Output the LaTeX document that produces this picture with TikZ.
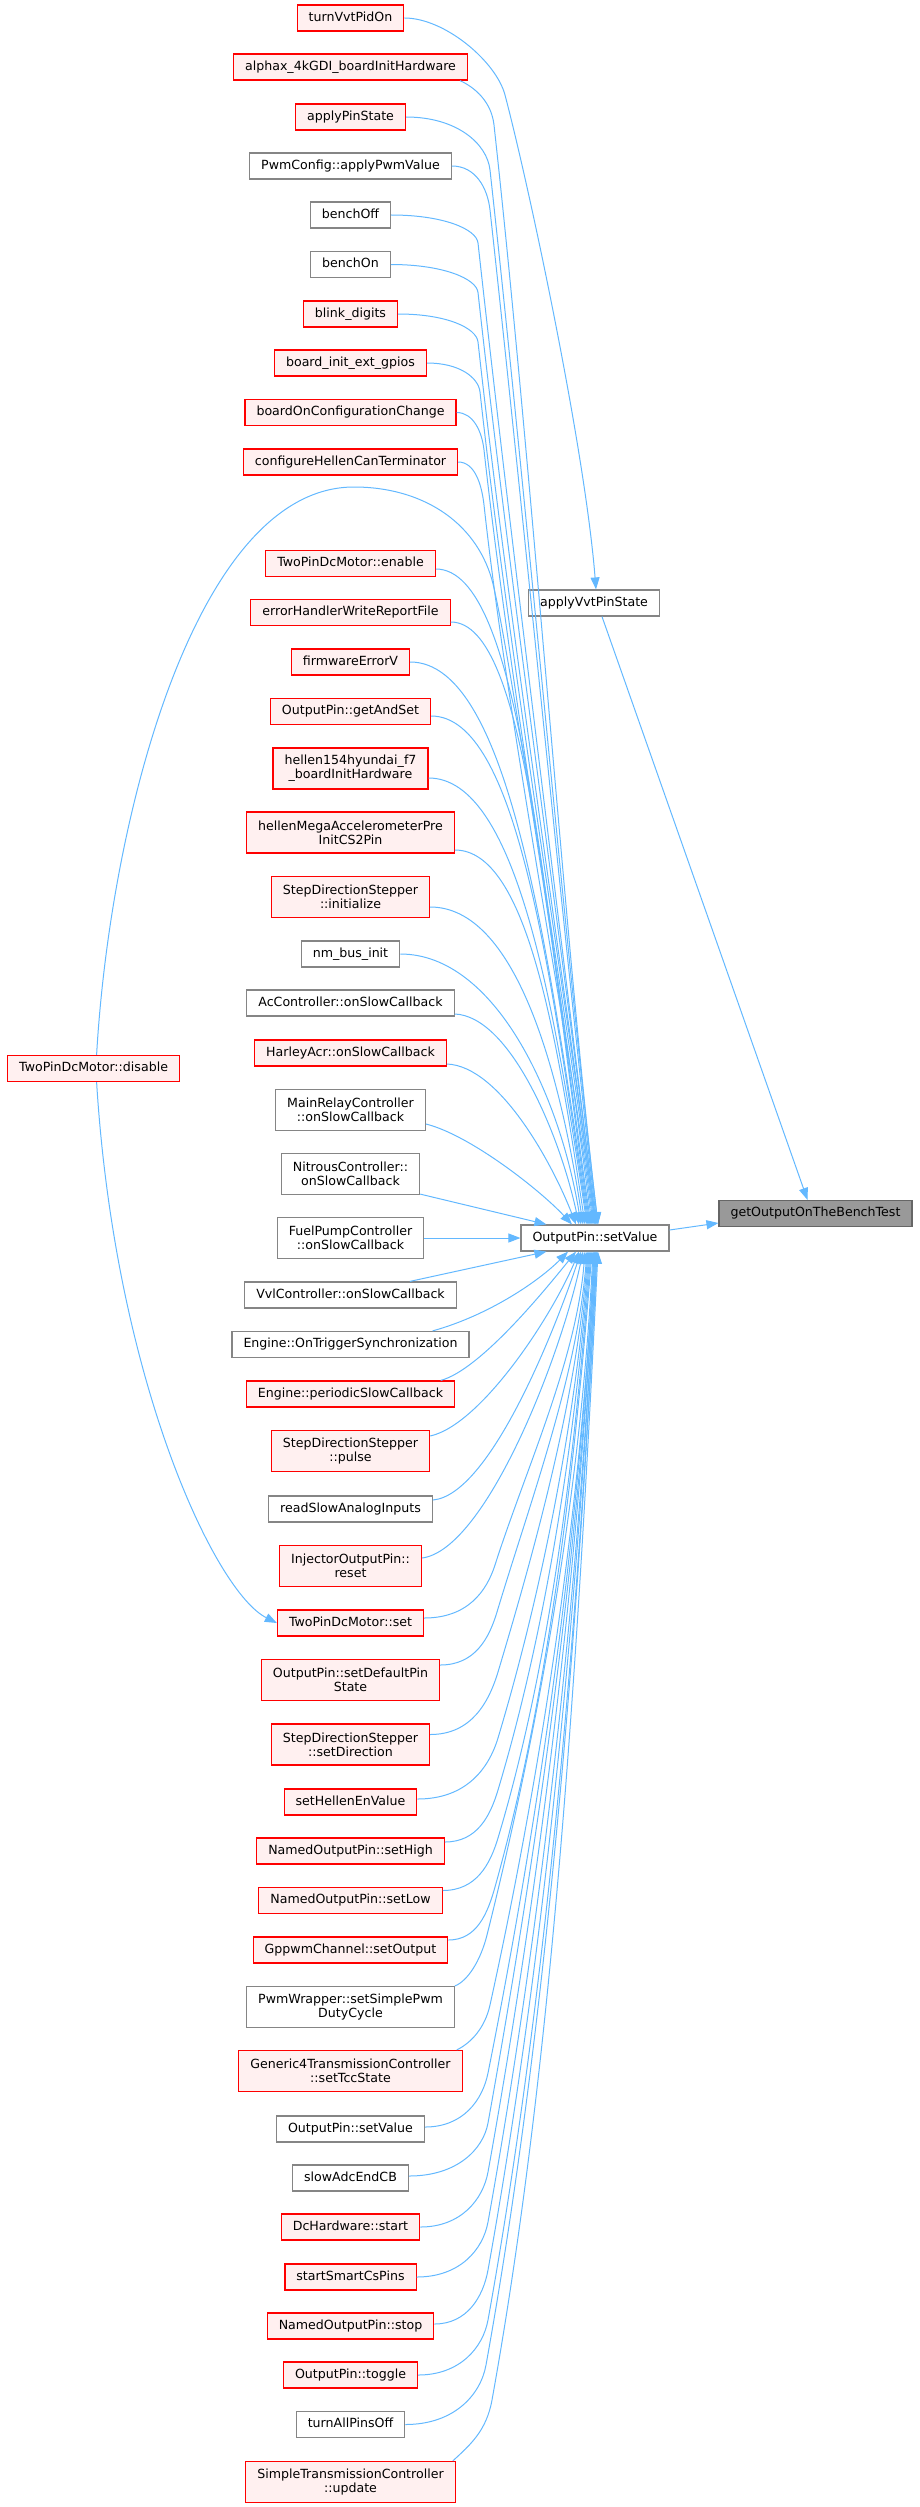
\documentclass[tikz,border=0pt]{standalone}
\usepackage{fontspec}
\setmainfont{DejaVu Sans}
\usetikzlibrary{arrows.meta,calc}
\definecolor{edgeblue}{HTML}{63B8FF}
\definecolor{redfill}{HTML}{FFF0F0}
\definecolor{greyline}{HTML}{858585}
\definecolor{rootline}{HTML}{666666}
\definecolor{rootfill}{HTML}{999999}
\tikzset{
 box/.style={rectangle, font=\fontsize{12.6}{14.3}\selectfont, align=center, inner xsep=11.5pt, inner ysep=0pt, line width=1.2pt},
 one/.style={text height=9.6pt, text depth=3pt, minimum height=26pt},
 two/.style={minimum height=41pt},
 rn/.style={box, draw=red, fill=redfill},
 gn/.style={box, draw=greyline, fill=white},
 rootn/.style={box, draw=rootline, fill=rootfill},
 cedge/.style={draw=edgeblue, line width=1pt, -{Triangle[length=12pt,width=9pt]}},
}
\begin{document}
\begin{tikzpicture}[x=1pt,y=1pt]
\useasboundingbox (0,0) rectangle (919,-2507);
% ---------- nodes ----------
\node[rn,one] (tvp) at (350.5,-18) {turnVvtPidOn};
\node[rn,one] (alp) at (350.5,-67) {alphax\_4kGDI\_boardInitHardware};
\node[rn,one] (aps) at (350.5,-117) {applyPinState};
\node[gn,one] (pwc) at (350.5,-166) {PwmConfig::applyPwmValue};
\node[gn,one] (bof) at (350.5,-215) {benchOff};
\node[gn,one] (bon) at (350.5,-264.5) {benchOn};
\node[rn,one] (bli) at (350.5,-314) {blink\_digits};
\node[rn,one] (big) at (350.5,-363) {board\_init\_ext\_gpios};
\node[rn,one] (boc) at (350.5,-412.5) {boardOnConfigurationChange};
\node[rn,one] (chc) at (350.5,-462) {configureHellenCanTerminator};
\node[rn,one] (ena) at (350.5,-563.5) {TwoPinDcMotor::enable};
\node[rn,one] (ehw) at (350.5,-612.5) {errorHandlerWriteReportFile};
\node[rn,one] (fev) at (350.5,-662) {firmwareErrorV};
\node[rn,one] (gas) at (350.5,-711.5) {OutputPin::getAndSet};
\node[rn,two] (h154) at (350.5,-768.5) {hellen154hyundai\_f7\\\_boardInitHardware};
\node[rn,two] (hma) at (350.5,-832.5) {hellenMegaAccelerometerPre\\InitCS2Pin};
\node[rn,two] (sdi) at (350.5,-897) {StepDirectionStepper\\::initialize};
\node[gn,one] (nmb) at (350.5,-954) {nm\_bus\_init};
\node[gn,one] (acc) at (350.5,-1003) {AcController::onSlowCallback};
\node[rn,one] (har) at (350.5,-1053) {HarleyAcr::onSlowCallback};
\node[gn,two] (mrc) at (350.5,-1110) {MainRelayController\\::onSlowCallback};
\node[gn,two] (nit) at (350.5,-1174) {NitrousController::\\onSlowCallback};
\node[gn,two] (fpc) at (350.5,-1238) {FuelPumpController\\::onSlowCallback};
\node[gn,one] (vvl) at (350.5,-1295) {VvlController::onSlowCallback};
\node[gn,one] (otr) at (350.5,-1344.5) {Engine::OnTriggerSynchronization};
\node[rn,one] (psc) at (350.5,-1394) {Engine::periodicSlowCallback};
\node[rn,two] (sdp) at (350.5,-1451) {StepDirectionStepper\\::pulse};
\node[gn,one] (rsa) at (350.5,-1509) {readSlowAnalogInputs};
\node[rn,two] (ior) at (350.5,-1566) {InjectorOutputPin::\\reset};
\node[rn,one] (tps) at (350.5,-1623) {TwoPinDcMotor::set};
\node[rn,two] (sdf) at (350.5,-1680) {OutputPin::setDefaultPin\\State};
\node[rn,two] (sdd) at (350.5,-1744.5) {StepDirectionStepper\\::setDirection};
\node[rn,one] (she) at (350.5,-1802) {setHellenEnValue};
\node[rn,one] (shi) at (350.5,-1851) {NamedOutputPin::setHigh};
\node[rn,one] (slo) at (350.5,-1900.5) {NamedOutputPin::setLow};
\node[rn,one] (gso) at (350.5,-1950) {GppwmChannel::setOutput};
\node[gn,two] (pww) at (350.5,-2007) {PwmWrapper::setSimplePwm\\DutyCycle};
\node[rn,two] (g4t) at (350.5,-2071) {Generic4TransmissionController\\::setTccState};
\node[gn,one] (opl) at (350.5,-2129) {OutputPin::setValue};
\node[gn,one] (sae) at (350.5,-2178) {slowAdcEndCB};
\node[rn,one] (dch) at (350.5,-2227) {DcHardware::start};
\node[rn,one] (ssc) at (350.5,-2277) {startSmartCsPins};
\node[rn,one] (nst) at (350.5,-2326) {NamedOutputPin::stop};
\node[rn,one] (otg) at (350.5,-2375) {OutputPin::toggle};
\node[gn,one] (tap) at (350.5,-2424.5) {turnAllPinsOff};
\node[rn,two] (stc) at (350.5,-2482) {SimpleTransmissionController\\::update};
\node[rn,one] (dis) at (93.6,-1068.5) {TwoPinDcMotor::disable};
\node[gn,one] (avs) at (594,-603) {applyVvtPinState};
\node[gn,one] (sv) at (595,-1238) {OutputPin::setValue};
\node[rootn,one] (go) at (815.5,-1213.5) {getOutputOnTheBenchTest};
% ---------- edges to the root ----------
\draw[cedge] ($(sv.east)+(0,8)$) -- ($(go.west)+(0,-9.5)$);
\draw[cedge] ($(avs.south)+(8,0)$) -- ($(go.north)+(-8,0)$);
\draw[cedge] (tvp.east) .. controls (445,-18) and (496.3,-61.75) .. (505,-95) .. controls (530,-190) and (585,-450) .. ($(avs.north)+(2,0)$);
% ---------- upper callers, far ----------
\draw[cedge] ($(alp.south east)+(-8,0)$) .. controls (476,-88) and (491.5,-102.5) .. (494,-125) .. controls (532.7,-477) and (567.6,-972) .. ($(sv.north)+(3,0)$);
\draw[cedge] (aps.east) .. controls (456.6,-117) and (487.1,-143.5) .. (490,-170) .. controls (527.1,-507.6) and (568.9,-982.3) .. ($(sv.north)+(3,0)$);
\draw[cedge] (pwc.east) .. controls (475.6,-166) and (487.6,-188) .. (490,-210) .. controls (525.7,-534.8) and (569,-991.5) .. ($(sv.north)+(2,0)$);
\draw[cedge] (bof.east) .. controls (443,-215) and (476.5,-229) .. (478,-243) .. controls (512.6,-557.2) and (568.9,-999.1) .. ($(sv.north)+(1,0)$);
\draw[cedge] (bon.east) .. controls (442.6,-264.5) and (476.5,-278.5) .. (478,-292.5) .. controls (510.8,-590.9) and (570.3,-1010.5) .. ($(sv.north)+(1,0)$);
\draw[cedge] (bli.east) .. controls (446.6,-314) and (476.5,-328) .. (478,-342) .. controls (509.1,-624.6) and (570.6,-1021.9) .. (sv.north);
\draw[cedge] (big.east) .. controls (459.6,-363) and (478.4,-377.5) .. (480,-392) .. controls (509.3,-658.6) and (572,-1033.4) .. (sv.north);
\draw[cedge] (boc.east) .. controls (473.2,-412.5) and (481.9,-431.3) .. (484,-450) .. controls (511.3,-698) and (572.6,-1046.7) .. ($(sv.north)+(-1,0)$);
\draw[cedge] (chc.east) .. controls (474.4,-462) and (481.6,-483.5) .. (484,-505) .. controls (509.3,-735.4) and (573.1,-1059.4) .. ($(sv.north)+(-2,0)$);
% ---------- TwoPinDcMotor::disable ----------
\draw[cedge] ($(dis.north)+(3,0)$) .. controls (110,-820) and (195,-487) .. (354,-487) .. controls (420,-487) and (475,-520) .. (492,-580) .. controls (508,-640) and (562,-1000) .. ($(sv.north)+(-3,0)$);
\draw[cedge] ($(dis.south)+(3,0)$) .. controls (115,-1380) and (215,-1592) .. (tps.west);
% ---------- upper callers, near ----------
\draw[cedge] ($(ena.east)+(0,-5.5)$) .. controls (521.9,-569) and (541.8,-897) .. ($(sv.north)+(-4,0)$);
\draw[cedge] ($(ehw.east)+(0,-9.5)$) .. controls (528.4,-622) and (544.8,-923.5) .. ($(sv.north)+(-5,0)$);
\draw[cedge] (fev.east) .. controls (508.7,-662) and (546.8,-943.5) .. ($(sv.north)+(-6,0)$);
\draw[cedge] ($(gas.east)+(0,-4.5)$) .. controls (517.4,-716) and (549.8,-970.5) .. ($(sv.north)+(-7,0)$);
\draw[cedge] ($(h154.east)+(0,-9.5)$) .. controls (516.4,-778) and (553.5,-1001.5) .. ($(sv.north)+(-8,0)$);
\draw[cedge] ($(hma.east)+(0,-17.5)$) .. controls (527.6,-850) and (556.9,-1037.5) .. ($(sv.north)+(-10,0)$);
\draw[cedge] ($(sdi.east)+(0,-10)$) .. controls (514.4,-907) and (559.1,-1066) .. ($(sv.north)+(-12,0)$);
\draw[cedge] (nmb.east) .. controls (495,-954) and (560,-1095) .. ($(sv.north)+(-14,0)$);
\draw[cedge] ($(acc.east)+(0,-11)$) .. controls (510,-1016) and (560,-1135) .. ($(sv.north)+(-16,0)$);
\draw[cedge] ($(har.east)+(0,-11)$) .. controls (500,-1066) and (553,-1165) .. ($(sv.north)+(-19,0)$);
\draw[cedge] ($(mrc.east)+(0,-14)$) .. controls (470,-1135) and (540,-1190) .. ($(sv.north)+(-23,0)$);
\draw[cedge] ($(nit.south east)+(0,1)$) -- ($(sv.north west)+(26,0)$);
\draw[cedge] (fpc.east) -- (sv.west);
% ---------- lower callers, near ----------
\draw[cedge] ($(vvl.north east)+(-47,0)$) -- ($(sv.south west)+(26,0)$);
\draw[cedge] ($(otr.north east)+(-37,0)$) .. controls (490,-1315) and (540,-1280) .. ($(sv.south)+(-27,0)$);
\draw[cedge] ($(psc.north east)+(-14.5,0)$) .. controls (480,-1370) and (545,-1290) .. ($(sv.south)+(-19,0)$);
\draw[cedge] ($(sdp.east)+(0,15)$) .. controls (480,-1425) and (550,-1320) .. ($(sv.south)+(-16,0)$);
\draw[cedge] ($(rsa.east)+(0,9)$) .. controls (490,-1495) and (555,-1330) .. ($(sv.south)+(-14,0)$);
\draw[cedge] ($(ior.east)+(0,8)$) .. controls (485,-1550) and (560,-1360) .. ($(sv.south)+(-12,0)$);
% ---------- lower callers, with knee ----------
\draw[cedge] ($(tps.east)+(0,5)$) .. controls (467.4,-1618) and (486.5,-1591.5) .. (495,-1565) .. controls (525.1,-1470.8) and (576.2,-1360.9) .. ($(sv.south)+(-10,0)$);
\draw[cedge] ($(sdf.east)+(0,15)$) .. controls (475,-1665) and (489,-1638.5) .. (497,-1612) .. controls (529.5,-1503.7) and (576.9,-1377.4) .. ($(sv.south)+(-8,0)$);
\draw[cedge] ($(sdd.east)+(0,10)$) .. controls (471,-1734.5) and (488.6,-1703) .. (498,-1672) .. controls (535.9,-1545.7) and (576.2,-1398.4) .. ($(sv.south)+(-7,0)$);
\draw[cedge] ($(she.east)+(0,3)$) .. controls (466.2,-1799) and (488.8,-1768.5) .. (498,-1738) .. controls (541.8,-1591.9) and (575.4,-1421.5) .. ($(sv.south)+(-6,0)$);
\draw[cedge] ($(shi.east)+(0,9)$) .. controls (477.2,-1842) and (490.2,-1816) .. (498,-1790) .. controls (546.5,-1628.3) and (574.9,-1439.7) .. ($(sv.south)+(-5,0)$);
\draw[cedge] ($(slo.east)+(0,10)$) .. controls (476.4,-1890.5) and (490.1,-1864.3) .. (498,-1838) .. controls (550.8,-1661.9) and (574.6,-1456.5) .. ($(sv.south)+(-4,0)$);
\draw[cedge] ($(gso.east)+(0,10)$) .. controls (476.8,-1940) and (487.6,-1913.5) .. (495,-1887) .. controls (548.4,-1696.2) and (574.2,-1473.6) .. ($(sv.south)+(-3,0)$);
\draw[cedge] (pww.north east) .. controls (467.5,-1981) and (480.5,-1961) .. (487,-1935) .. controls (538.3,-1729.8) and (581,-1490.4) .. ($(sv.south)+(-2,0)$);
\draw[cedge] ($(g4t.north east)+(-6,0)$) .. controls (471,-2043) and (484.9,-2028) .. (490,-2005) .. controls (539.8,-1778.8) and (580.8,-1514.9) .. ($(sv.south)+(-1,0)$);
\draw[cedge] ($(opl.east)+(0,2)$) .. controls (463.2,-2127) and (482.6,-2100) .. (488,-2073) .. controls (537.3,-1826.4) and (579.6,-1538.7) .. ($(sv.south)+(-1,0)$);
\draw[cedge] ($(sae.east)+(0,2)$) .. controls (456.8,-2176) and (483.2,-2149.5) .. (488,-2123) .. controls (535.1,-1861.4) and (579.7,-1556.2) .. (sv.south);
\draw[cedge] (dch.east) .. controls (461,-2227) and (483,-2199.5) .. (488,-2172) .. controls (537.7,-1895.7) and (578.9,-1573.4) .. (sv.south);
\draw[cedge] (ssc.east) .. controls (460,-2277) and (483,-2249.5) .. (488,-2222) .. controls (540.4,-1930.7) and (579,-1590.9) .. ($(sv.south)+(1,0)$);
\draw[cedge] ($(nst.east)+(0,2)$) .. controls (467,-2324) and (483.1,-2297) .. (488,-2270) .. controls (543,-1964.3) and (578.2,-1607.7) .. ($(sv.south)+(1,0)$);
\draw[cedge] (otg.east) .. controls (460,-2375) and (483,-2347.5) .. (488,-2320) .. controls (545.7,-1999.3) and (578.3,-1625.2) .. ($(sv.south)+(2,0)$);
\draw[cedge] (tap.east) .. controls (454,-2424.5) and (480.6,-2395) .. (486,-2365) .. controls (546.2,-2030.8) and (577.5,-1640.9) .. ($(sv.south)+(2,0)$);
\draw[cedge] ($(stc.north east)+(-3,0)$) .. controls (470,-2445) and (486.4,-2431) .. (492,-2400) .. controls (554,-2055.3) and (577.9,-1652.8) .. ($(sv.south)+(3,0)$);
\end{tikzpicture}
\end{document}
